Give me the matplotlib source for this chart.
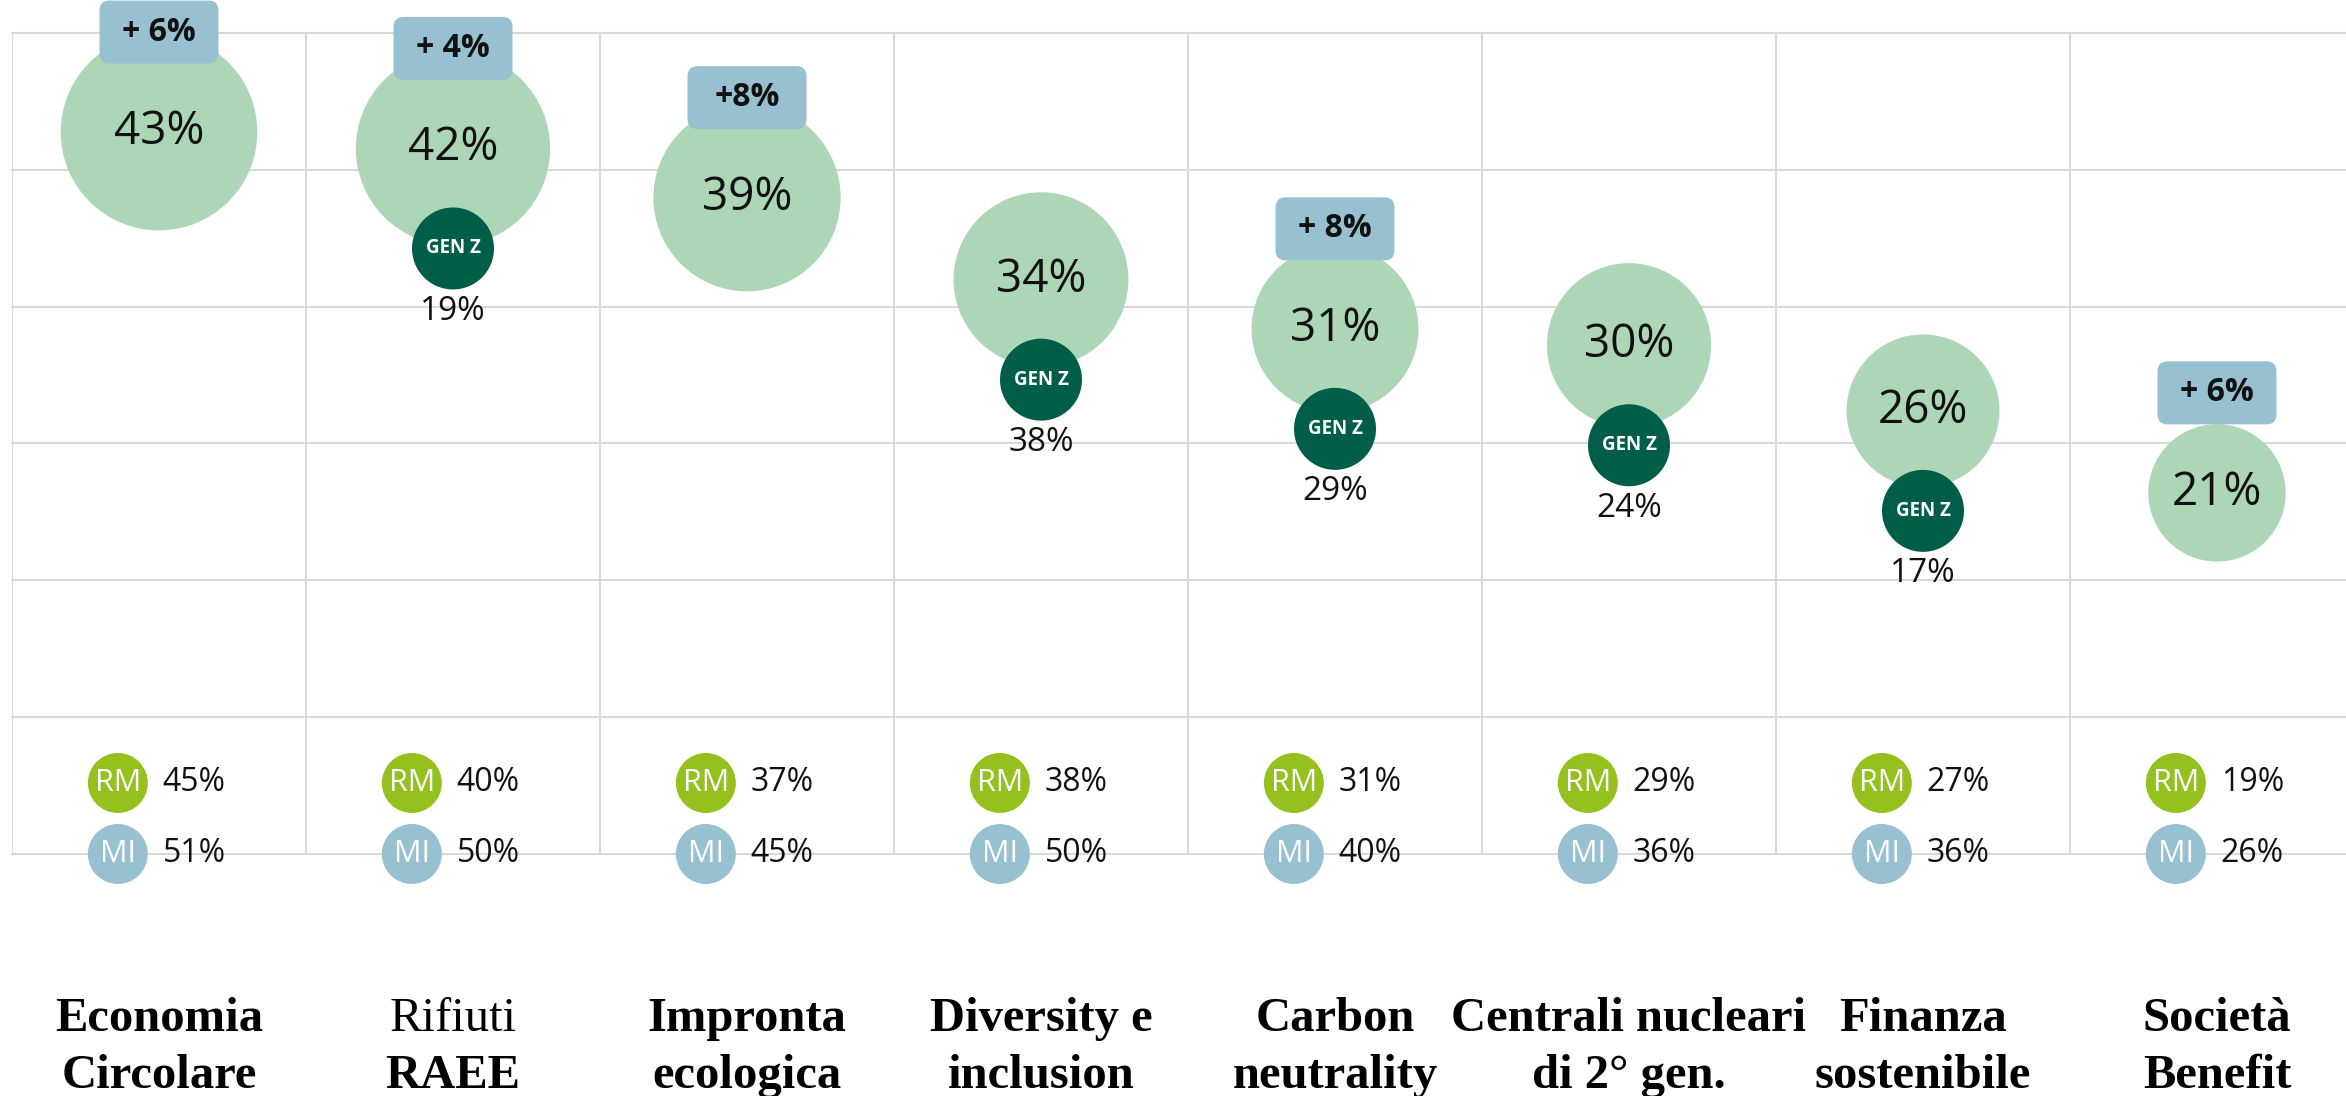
import numpy as np
import matplotlib.pyplot as plt
import matplotlib.transforms as mtransforms
from matplotlib.patches import FancyBboxPatch

# topics (two-line labels under each column)
topic_line1 = ["Economia", "Rifiuti", "Impronta", "Diversity e", "Carbon",
               "Centrali nucleari", "Finanza", "Società"]
topic_line2 = ["Circolare", "RAEE", "ecologica", "inclusion", "neutrality",
               "di 2° gen.", "sostenibile", "Benefit"]

# overall awareness (%), bubble values
overall_pct = [43, 42, 39, 34, 31, 30, 26, 21]
# Gen Z value where shown
genz_pct = [None, 19, None, 38, 29, 24, 17, None]
# badge above bubble
delta_labels = ["+ 6%", "+ 4%", "+8%", None, "+ 8%", None, None, "+ 6%"]
# city values
rm_pct = [45, 40, 37, 38, 31, 29, 27, 19]
mi_pct = [51, 50, 45, 50, 40, 36, 36, 26]

BUBBLE = "#ADD6B7"
BADGE = "#97C1D1"
GENZ = "#005E48"
RM_COL = "#95C11F"
MI_COL = "#97C1D1"
GRID = "#D9D9D9"

plt.rcParams['font.family'] = ['Open Sans', 'DejaVu Sans']

fig = plt.figure(figsize=(23.46, 10.96), dpi=100)
ax = fig.add_axes([12 / 2346, 242 / 1096, 2334 / 2346, 821 / 1096])
ax.set_xlim(-0.5, -0.5 + 2334 / 294)
ax.set_ylim(-1.02, 49.04)
ax.axis('off')

# grid
for gx in np.arange(-0.5, 7.5, 1.0):
    ax.axvline(gx, color=GRID, lw=1.5, zorder=0)
for gy in np.linspace(-1.02, 49.04, 7):
    ax.axhline(gy, color=GRID, lw=1.5, zorder=0, clip_on=False)

x = np.arange(len(overall_pct))


def shifted(dy_px):
    return mtransforms.offset_copy(ax.transData, fig=fig, x=0, y=dy_px / 100, units='inches')


# main bubbles (area proportional to value)
ax.scatter(x, overall_pct, s=[466 * v for v in overall_pct], color=BUBBLE,
           edgecolors='none', zorder=2, clip_on=False)
for i, v in enumerate(overall_pct):
    ax.text(i, v, f"{v}%", ha='center', va='center', fontsize=33, color='#111111', zorder=5)

# Gen Z markers
for i, (v, g) in enumerate(zip(overall_pct, genz_pct)):
    if g is None:
        continue
    ax.scatter([i], [v], s=3486, color=GENZ, edgecolors='none', zorder=3,
               transform=shifted(-100), clip_on=False)
    ax.text(i, v, "GEN Z", ha='center', va='center', fontsize=13.5, fontweight='bold',
            color='white', zorder=5, transform=shifted(-100))
    ax.text(i, v, f"{g}%", ha='center', va='center', fontsize=24, color='#111111',
            zorder=5, transform=shifted(-163))

# badges
for i, (v, lab) in enumerate(zip(overall_pct, delta_labels)):
    if lab is None:
        continue
    tr = fig.dpi_scale_trans + mtransforms.ScaledTranslation(i, v, ax.transData)
    box = FancyBboxPatch((-0.595, 1.0 - 0.315), 1.19, 0.63,
                         boxstyle='round,pad=0,rounding_size=0.1',
                         facecolor=BADGE, edgecolor='none', transform=tr, zorder=4,
                         clip_on=False)
    ax.add_patch(box)
    ax.text(i, v, lab, ha='center', va='center', fontsize=23, fontweight='bold',
            color='#111111', zorder=5, transform=shifted(100), clip_on=False)

# RM / MI rows
xt = ax.get_xaxis_transform()
rows = [(rm_pct, "RM", RM_COL, 0.0865), (mi_pct, "MI", MI_COL, 0.0)]
for vals, tag, col, yy in rows:
    cx = x - 0.14
    ax.scatter(cx, [yy] * len(cx), s=1866, color=col, edgecolors='none',
               transform=xt, zorder=3, clip_on=False)
    for i, v in enumerate(vals):
        ax.text(cx[i], yy, tag, ha='center', va='center', fontsize=22, color='white',
                transform=xt, zorder=5, clip_on=False)
        ax.text(cx[i] + 0.153, yy, f"{v}%", ha='left', va='center', fontsize=23,
                color='#111111', transform=xt, zorder=5, clip_on=False)

# topic labels
line1_weight = ['bold'] * len(topic_line1)
line1_weight[1] = 'normal'
for i in x:
    ax.text(i, -0.2156, topic_line1[i], ha='center', va='baseline', fontsize=35,
            fontweight=line1_weight[i], family='Liberation Serif', transform=xt,
            clip_on=False)
    ax.text(i, -0.285, topic_line2[i], ha='center', va='baseline', fontsize=35,
            fontweight='bold', family='Liberation Serif', transform=xt, clip_on=False)

fig.savefig("out.png", dpi=100)
